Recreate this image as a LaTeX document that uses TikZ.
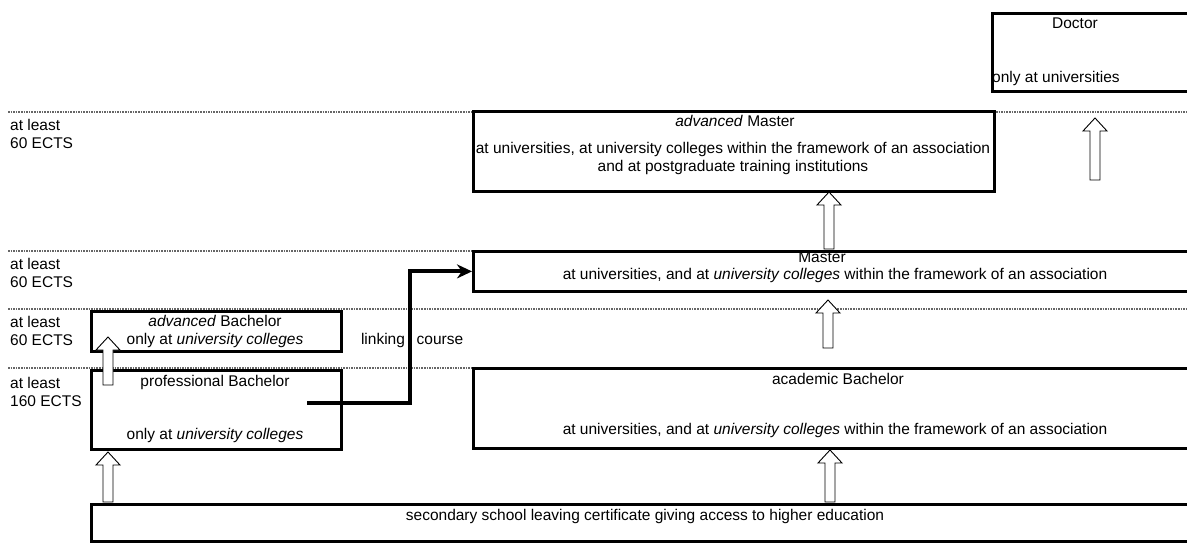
\documentclass[tikz,border=0pt]{standalone}
\usepackage{fontspec}
\setmainfont{Liberation Sans}
\usetikzlibrary{arrows.meta,calc}

\tikzset{
box/.style={draw,line width=2.8pt,fill=white,inner sep=0pt,anchor=north west},
txt/.style={inner sep=0pt,text height=11pt,text depth=3pt},
ects/.style={inner sep=0pt,align=left,anchor=west},
level/.style={gray!80!black,line width=1.3pt,dash pattern=on 1.6pt off 1pt},
link/.style={line width=4pt,-{Stealth[length=15pt,width=14pt]}},
}
\newcommand\hollowup[2]{\draw[fill=white,line width=0.9pt] let \p1=(#1),\p2=(#2) in
(\x1-5pt,\y1)--(\x1-5pt,\y2-13pt)--(\x1-12pt,\y2-13pt)--(\x1,\y2)--(\x1+12pt,\y2-13pt)--(\x1+5pt,\y2-13pt)--(\x1+5pt,\y1)--cycle;}

\begin{document}
\begin{tikzpicture}[x=1pt,y=-1pt,font=\fontsize{15.5}{18}\selectfont]
\useasboundingbox[fill=white](0,0)rectangle(1187,542);
% levels
\draw[level](8,112)--(1187,112);
\draw[level](8,251)--(1187,251);
\draw[level](8,309)--(1187,309);
\draw[level](8,368)--(1187,368);
\node[ects](e1)at(10,134){at least\\60 ECTS};
\node[ects](e2)at(10,273){at least\\60 ECTS};
\node[ects](e3)at(10,331){at least\\60 ECTS};
\node[ects](e4)at(10,392){at least\\160 ECTS};
% boxes
\node[box,minimum width=204pt,minimum height=78pt](doc)at(991,12){};
\node[box,minimum width=521pt,minimum height=80pt](advmaster)at(472,110){};
\node[box,minimum width=723pt,minimum height=40pt](master)at(472,250){};
\node[box,minimum width=250pt,minimum height=40pt](advbach)at(90,310){};
\node[box,minimum width=250pt,minimum height=79pt](prof)at(90,369){};
\node[box,minimum width=723pt,minimum height=80pt](acad)at(472,367){};
\node[box,minimum width=1105pt,minimum height=37pt](sec)at(90,503){};
% hollow arrows
\coordinate(t1)at(1095,180);\coordinate(h1)at(1095,118);
\coordinate(t2)at(829,249);\coordinate(h2)at(829,192);
\coordinate(t3)at(828,348);\coordinate(h3)at(828,300);
\coordinate(t4)at(830,502);\coordinate(h4)at(830,450);
\coordinate(t5)at(108,502);\coordinate(h5)at(108,452);
\coordinate(t6)at(108,385);\coordinate(h6)at(108,337);
\foreach \i in {1,...,6}{\hollowup{t\i}{h\i}}
% texts
\node[txt](docT)at(1075,24){Doctor};
\node[txt,anchor=west](docB)at(992,78){only at universities};
\node[txt](advmasterT)at(735,122){\textit{advanced} Master};
\node[txt,align=center](advmasterB)at(733,167){at universities, at university colleges within the framework of an association\\and at postgraduate training institutions};
\node[txt](masterT)at(822,258){Master};
\node[txt](masterB)at(835,275){at universities, and at \textit{university colleges} within the framework of an association};
\node[txt](advbachT)at(215,322){\textit{advanced} Bachelor};
\node[txt](advbachB)at(215,340){only at \textit{university colleges}};
\node[txt](profT)at(215,382){professional Bachelor};
\node[txt](profB)at(215,435){only at \textit{university colleges}};
\node[txt](acadT)at(838,380){academic Bachelor};
\node[txt](acadB)at(835,430){at universities, and at \textit{university colleges} within the framework of an association};
\node[txt](secT)at(645,516){secondary school leaving certificate giving access to higher education};
\node[txt](lnk)at(383,340){linking};
\node[txt](crs)at(440,340){course};
% linking course
\coordinate(pout)at(307,403);
\draw[link](pout)--(410,403)|-(master.west);
\end{tikzpicture}
\end{document}
